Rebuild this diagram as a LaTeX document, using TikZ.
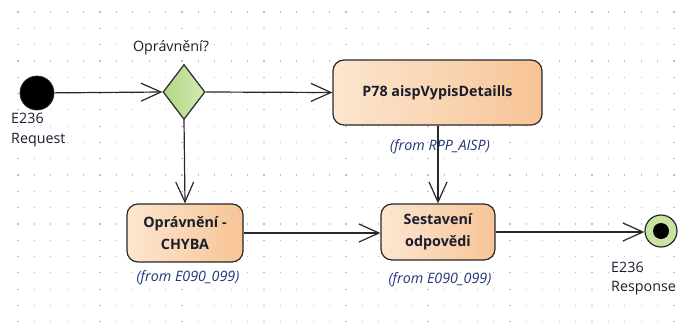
\documentclass[tikz,border=0pt]{standalone}
\usepackage{fontspec}
\setmainfont{Open Sans}
\usetikzlibrary{arrows.meta,shapes.geometric,shadings}
\definecolor{linec}{RGB}{40,40,40}
\definecolor{txtc}{RGB}{25,30,45}
\definecolor{fromc}{RGB}{35,55,120}
\definecolor{boxl}{RGB}{252,230,208}
\definecolor{boxr}{RGB}{247,196,150}
\definecolor{diaml}{RGB}{176,214,130}
\definecolor{diamr}{RGB}{212,234,180}
\definecolor{endg}{RGB}{200,228,160}
\definecolor{gridc}{RGB}{190,190,190}
\tikzset{
  actbox/.style={draw=linec, line width=1.2pt, rounded corners=11pt, left color=boxl, right color=boxr, font=\fontsize{14.3}{22}\selectfont\bfseries, text=txtc, align=center, inner sep=0pt},
  decision/.style={diamond, draw=linec, line width=1.2pt, left color=diaml, right color=diamr, minimum width=42pt, minimum height=55pt, inner sep=0pt, aspect=0.76},
  flow/.style={draw=linec, line width=1.2pt, -{Straight Barb[length=20pt,width=18pt,line width=1.2pt]}},
  lbl/.style={font=\fontsize{14.3}{18}\selectfont, text=txtc, inner sep=0pt},
  fromlbl/.style={font=\fontsize{14.3}{18}\selectfont\itshape, text=fromc, inner sep=0pt}
}
\begin{document}
\begin{tikzpicture}[x=1pt,y=-1pt]
\useasboundingbox (0,0) rectangle (686,335);
\fill[white] (0,0) rectangle (686,335);
\foreach \i in {0,...,40} {
  \foreach \j in {0,...,19} {
    \fill[gridc] ({18+16.4*\i-0.6},{12+16.3*\j-0.6}) rectangle ++(1.2,1.2);
  }
}
% nodes
\node[circle, fill=black, draw=linec, line width=0.8pt, minimum size=34pt, inner sep=0pt] (start) at (37,93) {};
\node[decision] (dec) at (184,92) {};
\node[actbox, minimum width=209pt, minimum height=65pt] (p78) at (437.5,92.5) {P78 aispVypisDetaills};
\node[actbox, minimum width=116pt, minimum height=58pt] (chyba) at (185,233) {Oprávnění -\\CHYBA};
\node[actbox, minimum width=114pt, minimum height=56pt] (sest) at (438,232) {Sestavení\\odpovědi};
\node[circle, draw=linec, line width=1.2pt, fill=endg, minimum size=32pt, inner sep=0pt] (end) at (661,231) {};
\node[circle, fill=black, minimum size=16pt, inner sep=0pt] (endin) at (end.center) {};
% labels
\node[lbl] (declbl) at (171,48) {Oprávnění?};
\node[lbl, anchor=west] (req1) at (11,118) {E236};
\node[lbl, anchor=west] (req2) at (11,140) {Request};
\node[lbl, anchor=west] (res1) at (611,267) {E236};
\node[lbl, anchor=west] (res2) at (611,288) {Response};
\node[fromlbl] (f1) at (440,147) {(from RPP\_AISP)};
\node[fromlbl] (f2) at (188,278) {(from E090\_099)};
\node[fromlbl] (f3) at (440,280) {(from E090\_099)};
% connectors
\draw[flow] (start) -- (dec.west);
\draw[flow] (dec.east) -- (p78.west);
\draw[flow] (dec.south) -- (chyba.north);
\draw[flow] (p78.south -| sest.north) -- (sest.north);
\draw[flow] (chyba.east) -- (chyba.east -| sest.west);
\draw[flow] (sest.east) -- (sest.east -| end.west);
\end{tikzpicture}
\end{document}
